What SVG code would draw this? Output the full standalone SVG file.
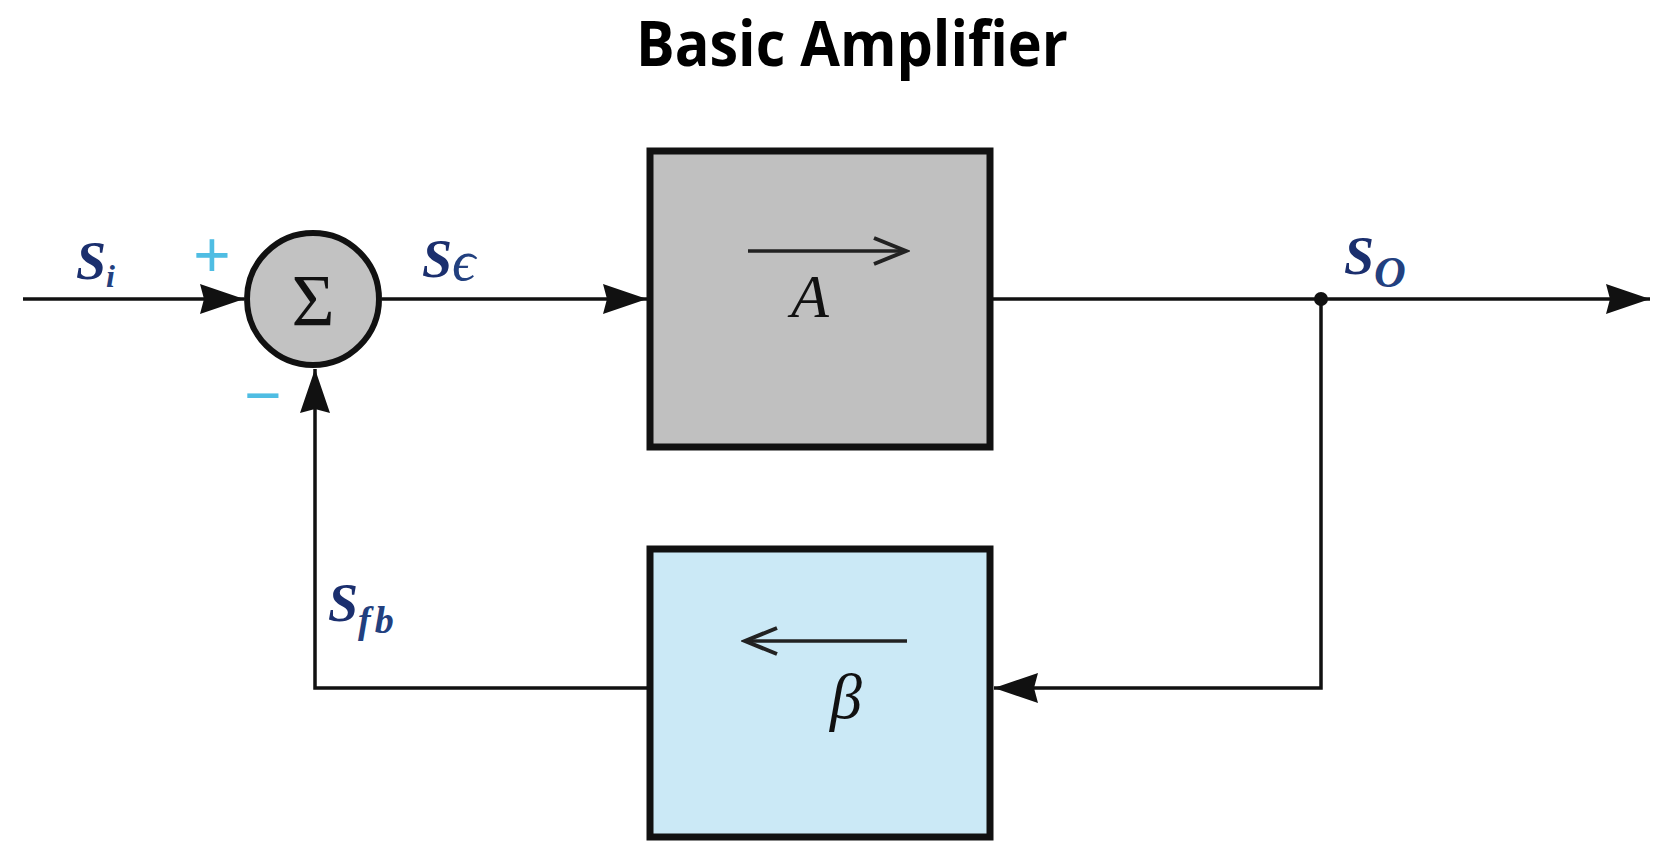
<svg xmlns="http://www.w3.org/2000/svg" width="1664" height="851" viewBox="0 0 1664 851">
<style>
.wire{fill:none;stroke:#111;stroke-width:3.5}
.box{stroke:#111;stroke-width:7}
.lbl{font-family:"Liberation Serif","DejaVu Serif",serif;font-style:italic;font-weight:bold;fill:#1b2f6e}
.sub{font-family:"Liberation Serif","DejaVu Serif",serif;font-style:italic;fill:#22407f}
.sign{font-family:"Liberation Sans",sans-serif;fill:#4fbde3;text-anchor:middle}
.inner{fill:none;stroke:#222;stroke-width:3.5}
</style>
<defs>
<marker id="ah" viewBox="-48 -17 50 34" refX="0" refY="0" markerWidth="50" markerHeight="34" markerUnits="userSpaceOnUse" orient="auto">
<path d="M0,0 L-44,-15 L-40,0 L-44,15 Z" fill="#111"/>
</marker>
<marker id="oh" viewBox="-36 -16 40 32" refX="0" refY="0" markerWidth="40" markerHeight="32" markerUnits="userSpaceOnUse" orient="auto">
<path d="M-32,-13 L0,0 L-32,13" fill="none" stroke="#222" stroke-width="4"/>
</marker>
</defs>
<rect width="1664" height="851" fill="#fff"/>
<text x="852" y="66" font-family="Open Sans, Liberation Sans, sans-serif" font-weight="bold" font-size="62" text-anchor="middle" textLength="432" lengthAdjust="spacingAndGlyphs" fill="#000">Basic Amplifier</text>
<g id="connectors">
<path class="wire" d="M23,299 H244" marker-end="url(#ah)"/>
<path class="wire" d="M382,299 H647" marker-end="url(#ah)"/>
<path class="wire" d="M990,299 H1650" marker-end="url(#ah)"/>
<path class="wire" d="M1321,299 V688 H994" marker-end="url(#ah)"/>
<path class="wire" d="M650,688 H315 V369" marker-end="url(#ah)"/>
<circle cx="1321" cy="299" r="7" fill="#111"/>
</g>
<g id="sum">
<circle cx="313" cy="299" r="66" fill="#c2c2c2" stroke="#111" stroke-width="6"/>
<text x="313" y="326" font-family="Liberation Serif, serif" font-size="74" text-anchor="middle" fill="#111">Σ</text>
<text class="sign" x="212" y="277" font-size="64">+</text>
<text class="sign" x="263" y="417" font-size="64">−</text>
</g>
<g id="amp">
<rect class="box" x="650" y="151" width="340" height="296" fill="#c0c0c0"/>
<path class="inner" d="M748,251 H906" marker-end="url(#oh)"/>
<text x="810" y="317" font-family="Liberation Serif, serif" font-style="italic" font-size="62" text-anchor="middle" fill="#111">A</text>
</g>
<g id="beta">
<rect class="box" x="650" y="549" width="340" height="288" fill="#cbe9f6"/>
<path class="inner" d="M907,641 H745" marker-end="url(#oh)"/>
<text x="846" y="718" font-family="Liberation Serif, serif" font-style="italic" font-size="64" text-anchor="middle" fill="#111">β</text>
</g>
<g id="labels">
<text class="lbl" x="76" y="279" font-size="54">S<tspan class="sub" font-weight="bold" font-size="32" dy="8">i</tspan></text>
<text class="lbl" x="422" y="277" font-size="54">S<tspan class="sub" font-style="normal" font-weight="normal" font-size="58" dy="3" font-family="DejaVu Serif, serif">ϵ</tspan></text>
<text class="lbl" x="1344" y="274" font-size="54">S<tspan class="sub" font-size="44" dy="13">O</tspan></text>
<text class="lbl" x="328" y="621" font-size="54">S<tspan class="sub" font-weight="bold" font-size="38" dy="12" letter-spacing="4">fb</tspan></text>
</g>
</svg>
